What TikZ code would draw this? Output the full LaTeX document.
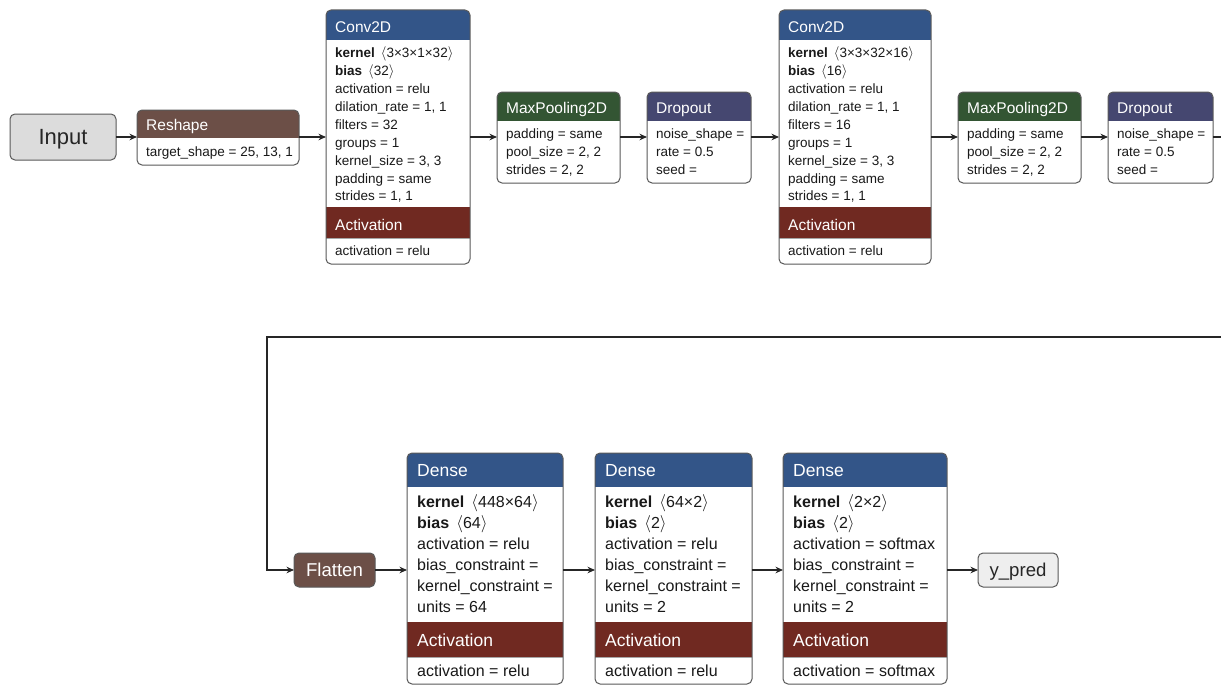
\documentclass[tikz,border=0pt]{standalone}
\usepackage{fontspec}
\setmainfont{Liberation Sans}
\usetikzlibrary{arrows.meta}
\definecolor{clayer}{RGB}{51,85,136}
\definecolor{cact}{RGB}{112,41,33}
\definecolor{cpool}{RGB}{51,85,51}
\definecolor{cdrop}{RGB}{69,71,112}
\definecolor{cshape}{RGB}{108,79,71}
\definecolor{cin}{RGB}{220,220,220}
\definecolor{cout}{RGB}{238,238,238}
\tikzset{
  boxshape/.style={rectangle, inner sep=0pt, outer sep=0pt, rounded corners=5pt, draw=none},
  framestyle/.style={draw=black!65, line width=1pt, rounded corners=5pt},
  sepstyle/.style={draw=black!35, line width=0.6pt},
  attrT/.style={inner sep=0pt, text=black!90, font=\fontsize{13.5}{16}\selectfont},
  hdrT/.style={inner sep=0pt, text=white, font=\fontsize{15.5}{18}\selectfont},
  attrB/.style={inner sep=0pt, text=black!90, font=\fontsize{16}{19}\selectfont},
  hdrB/.style={inner sep=0pt, text=white, font=\fontsize{17.5}{20}\selectfont},
  conn/.style={draw=black!85, line width=1.1pt, -{Stealth[length=7.5pt,width=6.5pt]}},
}
\newcommand\nnBox[6]{\node[boxshape, fill=#6, minimum width={#4pt-#2pt}, minimum height={#5pt-#3pt}, anchor=north west] (#1) at (#2,#3) {};}
\newcommand\nnBand[4]{\begin{scope}\clip[rounded corners=5pt] (#1.north west) rectangle (#1.south east);
  \fill[#4] (#1.west |- 0,#2) rectangle (#1.east |- 0,#3);\end{scope}}
\newcommand\nnSep[2]{\draw[sepstyle] (#1.west |- 0,#2) -- (#1.east |- 0,#2);}
\newcommand\nnFrame[1]{\draw[framestyle] (#1.north west) rectangle (#1.south east);}
\newcommand\nnLines[6]{\foreach \t [count=\i from 0] in {#6}{\node[#5, anchor=base west] (#1-\i) at ({#2},{#3+\i*#4}) {\t};}}
\newcommand\nnL{\,$\langle$}
\newcommand\nnR{$\rangle$}
\begin{document}
\begin{tikzpicture}[x=1pt,y=-1pt]
\useasboundingbox (0,0) rectangle (1221,685);
\clip (0,0) rectangle (1221,685);
\fill[white] (0,0) rectangle (1221,685);

% ---------- Input ----------
\nnBox{input}{10}{114}{116}{160}{cin}
\nnFrame{input}
\node[inner sep=0pt, anchor=base, font=\fontsize{22}{24}\selectfont, text=black!85] (inputT) at (63,144.3) {Input};

% ---------- Reshape ----------
\nnBox{reshape}{137}{110}{299}{165}{white}
\nnBand{reshape}{110}{138}{cshape}
\nnFrame{reshape}
\node[hdrT, anchor=base west] (reshapeH) at (146,130) {Reshape};
\node[attrT, anchor=base west] (reshapeA) at (146,156.7) {target\_shape = 25, 13, 1};

% ---------- Conv2D 1 ----------
\nnBox{convA}{326}{10}{470}{264}{white}
\nnBand{convA}{10}{40}{clayer}
\nnBand{convA}{207}{238}{cact}
\nnSep{convA}{238}
\nnFrame{convA}
\node[hdrT, anchor=base west] (convAH) at (335,32.5) {Conv2D};
\nnLines{convAL}{335}{57.7}{17.9}{attrT}{{\textbf{kernel}\ \nnL3×3×1×32\nnR},{\textbf{bias}\ \nnL32\nnR},activation = relu,{dilation\_rate = 1, 1},filters = 32,groups = 1,{kernel\_size = 3, 3},padding = same,{strides = 1, 1}}
\node[hdrT, anchor=base west] (convAact) at (335,230) {Activation};
\node[attrT, anchor=base west] (convAactA) at (335,255.7) {activation = relu};

% ---------- MaxPooling2D 1 ----------
\nnBox{poolA}{497}{92}{620}{183}{white}
\nnBand{poolA}{92}{121}{cpool}
\nnFrame{poolA}
\node[hdrT, anchor=base west] (poolAH) at (506,113.3) {MaxPooling2D};
\nnLines{poolAL}{506}{138.3}{17.9}{attrT}{padding = same,{pool\_size = 2, 2},{strides = 2, 2}}

% ---------- Dropout 1 ----------
\nnBox{dropA}{647}{92}{751}{183}{white}
\nnBand{dropA}{92}{121}{cdrop}
\nnFrame{dropA}
\node[hdrT, anchor=base west] (dropAH) at (656,113.3) {Dropout};
\nnLines{dropAL}{656}{138.3}{17.9}{attrT}{noise\_shape =,rate = 0.5,seed =}

% ---------- Conv2D 2 ----------
\nnBox{convB}{779}{10}{931}{264}{white}
\nnBand{convB}{10}{40}{clayer}
\nnBand{convB}{207}{238}{cact}
\nnSep{convB}{238}
\nnFrame{convB}
\node[hdrT, anchor=base west] (convBH) at (788,32.5) {Conv2D};
\nnLines{convBL}{788}{57.7}{17.9}{attrT}{{\textbf{kernel}\ \nnL3×3×32×16\nnR},{\textbf{bias}\ \nnL16\nnR},activation = relu,{dilation\_rate = 1, 1},filters = 16,groups = 1,{kernel\_size = 3, 3},padding = same,{strides = 1, 1}}
\node[hdrT, anchor=base west] (convBact) at (788,230) {Activation};
\node[attrT, anchor=base west] (convBactA) at (788,255.7) {activation = relu};

% ---------- MaxPooling2D 2 ----------
\nnBox{poolB}{958}{92}{1081}{183}{white}
\nnBand{poolB}{92}{121}{cpool}
\nnFrame{poolB}
\node[hdrT, anchor=base west] (poolBH) at (967,113.3) {MaxPooling2D};
\nnLines{poolBL}{967}{138.3}{17.9}{attrT}{padding = same,{pool\_size = 2, 2},{strides = 2, 2}}

% ---------- Dropout 2 ----------
\nnBox{dropB}{1108}{92}{1213}{183}{white}
\nnBand{dropB}{92}{121}{cdrop}
\nnFrame{dropB}
\node[hdrT, anchor=base west] (dropBH) at (1117,113.3) {Dropout};
\nnLines{dropBL}{1117}{138.3}{17.9}{attrT}{noise\_shape =,rate = 0.5,seed =}

% ---------- Flatten ----------
\nnBox{flatten}{294}{553}{375}{587}{cshape}
\nnFrame{flatten}
\node[inner sep=0pt, anchor=base, font=\fontsize{18.6}{20}\selectfont, text=white] (flattenT) at (334.5,576.7) {Flatten};

% ---------- Dense 1 ----------
\nnBox{denseA}{407}{453}{563}{684}{white}
\nnBand{denseA}{453}{487}{clayer}
\nnBand{denseA}{622}{657}{cact}
\nnSep{denseA}{657}
\nnFrame{denseA}
\node[hdrB, anchor=base west] (denseAH) at (417,476.7) {Dense};
\nnLines{denseAL}{417}{507.3}{21}{attrB}{{\textbf{kernel}\ \nnL448×64\nnR},{\textbf{bias}\ \nnL64\nnR},activation = relu,bias\_constraint =,kernel\_constraint =,units = 64}
\node[hdrB, anchor=base west] (denseAact) at (417,646) {Activation};
\node[attrB, anchor=base west] (denseAactA) at (417,676.7) {activation = relu};

% ---------- Dense 2 ----------
\nnBox{denseB}{595}{453}{752}{684}{white}
\nnBand{denseB}{453}{487}{clayer}
\nnBand{denseB}{622}{657}{cact}
\nnSep{denseB}{657}
\nnFrame{denseB}
\node[hdrB, anchor=base west] (denseBH) at (605,476.7) {Dense};
\nnLines{denseBL}{605}{507.3}{21}{attrB}{{\textbf{kernel}\ \nnL64×2\nnR},{\textbf{bias}\ \nnL2\nnR},activation = relu,bias\_constraint =,kernel\_constraint =,units = 2}
\node[hdrB, anchor=base west] (denseBact) at (605,646) {Activation};
\node[attrB, anchor=base west] (denseBactA) at (605,676.7) {activation = relu};

% ---------- Dense 3 ----------
\nnBox{denseC}{783}{453}{947}{684}{white}
\nnBand{denseC}{453}{487}{clayer}
\nnBand{denseC}{622}{657}{cact}
\nnSep{denseC}{657}
\nnFrame{denseC}
\node[hdrB, anchor=base west] (denseCH) at (793,476.7) {Dense};
\nnLines{denseCL}{793}{507.3}{21}{attrB}{{\textbf{kernel}\ \nnL2×2\nnR},{\textbf{bias}\ \nnL2\nnR},activation = softmax,bias\_constraint =,kernel\_constraint =,units = 2}
\node[hdrB, anchor=base west] (denseCact) at (793,646) {Activation};
\node[attrB, anchor=base west] (denseCactA) at (793,676.7) {activation = softmax};

% ---------- y_pred ----------
\nnBox{ypred}{978}{553}{1058}{587}{cout}
\nnFrame{ypred}
\node[inner sep=0pt, anchor=base, font=\fontsize{18.6}{20}\selectfont, text=black!85] (ypredT) at (1018,576.7) {y\_pred};

% ---------- connectors ----------
\coordinate (row1) at (0,137);
\coordinate (row2) at (0,570);
\draw[conn] (input.east |- row1) -- (reshape.west |- row1);
\draw[conn] (reshape.east |- row1) -- (convA.west |- row1);
\draw[conn] (convA.east |- row1) -- (poolA.west |- row1);
\draw[conn] (poolA.east |- row1) -- (dropA.west |- row1);
\draw[conn] (dropA.east |- row1) -- (convB.west |- row1);
\draw[conn] (convB.east |- row1) -- (poolB.west |- row1);
\draw[conn] (poolB.east |- row1) -- (dropB.west |- row1);
\coordinate (wrapA) at (1240,137);
\coordinate (wrapB) at (1240,337);
\coordinate (wrapC) at (267,337);
\draw[conn] (dropB.east |- row1) -- (wrapA) -- (wrapB) -- (wrapC) |- (flatten.west |- row2);
\draw[conn] (flatten.east |- row2) -- (denseA.west |- row2);
\draw[conn] (denseA.east |- row2) -- (denseB.west |- row2);
\draw[conn] (denseB.east |- row2) -- (denseC.west |- row2);
\draw[conn] (denseC.east |- row2) -- (ypred.west |- row2);
\end{tikzpicture}
\end{document}
